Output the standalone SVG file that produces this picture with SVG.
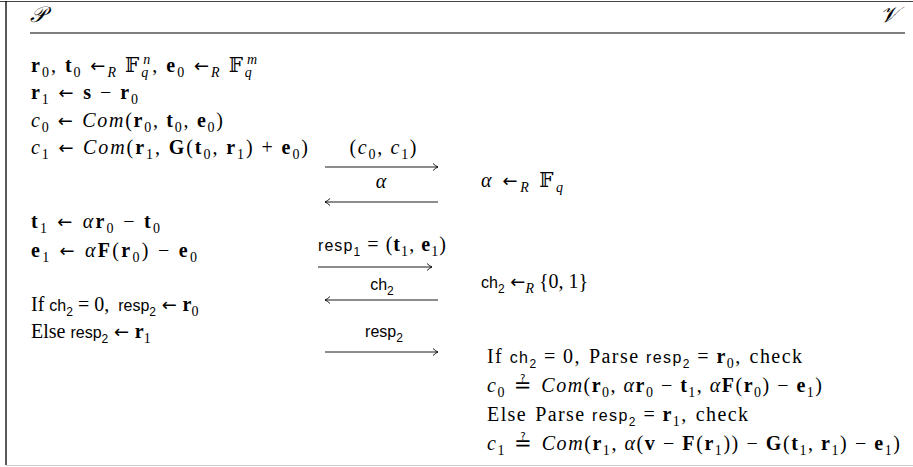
<svg xmlns="http://www.w3.org/2000/svg" width="913" height="467" viewBox="0 0 913 467">
<style>
.m{font-family:"Liberation Serif","DejaVu Serif",serif;font-size:20px;fill:#000}
.b{font-weight:bold}
.i{font-style:italic}
.u{font-size:14px}
.a{font-family:"DejaVu Sans","Liberation Sans",sans-serif;font-size:18px}
.eq{font-family:"DejaVu Sans","Liberation Sans",sans-serif;font-size:21px}
.sf{font-family:"Liberation Sans","DejaVu Sans",sans-serif;font-size:16px}
.us{font-family:"Liberation Sans","DejaVu Sans",sans-serif;font-size:12px}
.sc{font-family:"DejaVu Serif","DejaVu Sans","Liberation Serif",serif;font-style:italic;font-size:22px}
.ar{stroke:#000;stroke-width:0.9;fill:none}
</style>
<defs>
<marker id="hd" viewBox="0 0 6 8" refX="5.5" refY="4" markerWidth="6" markerHeight="8" markerUnits="userSpaceOnUse" orient="auto">
<path d="M0.5,0.5 Q3,3 5.5,4 Q3,5 0.5,7.5" fill="none" stroke="#000" stroke-width="0.9"/>
</marker>
</defs>
<rect width="913" height="467" fill="#fff"/>
<g id="frame">
<line x1="0" y1="1.5" x2="913" y2="1.5" stroke="#444" stroke-width="1.2"/>
<line x1="6" y1="1" x2="6" y2="465" stroke="#000" stroke-width="1.3"/>
<line x1="6" y1="465.5" x2="913" y2="465.5" stroke="#ccc" stroke-width="1"/>
<line x1="30" y1="33" x2="905" y2="33" stroke="#555" stroke-width="1.3"/>
</g>
<g id="prover-header"><text class="m sc" x="30" y="22">𝒫</text></g>
<g id="verifier-header"><text class="m sc" x="898" y="22" text-anchor="end">𝒱</text></g>

<g id="prover">
<text class="m" x="31" y="72" textLength="226" lengthAdjust="spacing"><tspan class="b">r</tspan><tspan class="u" dy="4.5">0</tspan><tspan dy="-4.5">, </tspan><tspan class="b">t</tspan><tspan class="u" dy="4.5">0</tspan><tspan class="a" dy="-4.5"> ←</tspan><tspan class="u i" dy="4.5">R</tspan><tspan dy="-4.5"> 𝔽</tspan><tspan class="u i" dy="5">q</tspan><tspan class="u i" dx="-7" dy="-13">n</tspan><tspan dy="8">, </tspan><tspan class="b">e</tspan><tspan class="u" dy="4.5">0</tspan><tspan class="a" dy="-4.5"> ←</tspan><tspan class="u i" dy="4.5">R</tspan><tspan dy="-4.5"> 𝔽</tspan><tspan class="u i" dy="5">q</tspan><tspan class="u i" dx="-7" dy="-13">m</tspan></text>
<text class="m" x="31" y="99" textLength="107" lengthAdjust="spacing"><tspan class="b">r</tspan><tspan class="u" dy="4.5">1</tspan><tspan class="a" dy="-4.5"> ← </tspan><tspan class="b">s</tspan><tspan> − </tspan><tspan class="b">r</tspan><tspan class="u" dy="4.5">0</tspan></text>
<text class="m" x="31" y="127" textLength="192" lengthAdjust="spacing"><tspan class="i">c</tspan><tspan class="u" dy="4.5">0</tspan><tspan class="a" dy="-4.5"> ← </tspan><tspan class="i">Com</tspan><tspan>(</tspan><tspan class="b">r</tspan><tspan class="u" dy="4.5">0</tspan><tspan dy="-4.5">, </tspan><tspan class="b">t</tspan><tspan class="u" dy="4.5">0</tspan><tspan dy="-4.5">, </tspan><tspan class="b">e</tspan><tspan class="u" dy="4.5">0</tspan><tspan dy="-4.5">)</tspan></text>
<text class="m" x="31" y="154" textLength="277" lengthAdjust="spacing"><tspan class="i">c</tspan><tspan class="u" dy="4.5">1</tspan><tspan class="a" dy="-4.5"> ← </tspan><tspan class="i">Com</tspan><tspan>(</tspan><tspan class="b">r</tspan><tspan class="u" dy="4.5">1</tspan><tspan dy="-4.5">, </tspan><tspan class="b">G</tspan><tspan>(</tspan><tspan class="b">t</tspan><tspan class="u" dy="4.5">0</tspan><tspan dy="-4.5">, </tspan><tspan class="b">r</tspan><tspan class="u" dy="4.5">1</tspan><tspan dy="-4.5">) + </tspan><tspan class="b">e</tspan><tspan class="u" dy="4.5">0</tspan><tspan dy="-4.5">)</tspan></text>
<text class="m" x="31" y="228" textLength="129" lengthAdjust="spacing"><tspan class="b">t</tspan><tspan class="u" dy="4.5">1</tspan><tspan class="a" dy="-4.5"> ← </tspan><tspan class="i">α</tspan><tspan class="b">r</tspan><tspan class="u" dy="4.5">0</tspan><tspan dy="-4.5"> − </tspan><tspan class="b">t</tspan><tspan class="u" dy="4.5">0</tspan></text>
<text class="m" x="31" y="257" textLength="166" lengthAdjust="spacing"><tspan class="b">e</tspan><tspan class="u" dy="4.5">1</tspan><tspan class="a" dy="-4.5"> ← </tspan><tspan class="i">α</tspan><tspan class="b">F</tspan><tspan>(</tspan><tspan class="b">r</tspan><tspan class="u" dy="4.5">0</tspan><tspan dy="-4.5">) − </tspan><tspan class="b">e</tspan><tspan class="u" dy="4.5">0</tspan></text>
<text class="m" x="31" y="311"><tspan>If </tspan><tspan class="sf">ch</tspan><tspan class="us" dy="4.5">2</tspan><tspan dy="-4.5"> = 0,</tspan><tspan dx="9" class="sf">resp</tspan><tspan class="us" dy="4.5">2</tspan><tspan class="a" dy="-4.5"> ← </tspan><tspan class="b">r</tspan><tspan class="u" dy="4.5">0</tspan></text>
<text class="m" x="31" y="338"><tspan>Else </tspan><tspan class="sf">resp</tspan><tspan class="us" dy="4.5">2</tspan><tspan class="a" dy="-4.5"> ← </tspan><tspan class="b">r</tspan><tspan class="u" dy="4.5">1</tspan></text>
</g>

<g id="verifier">
<text class="m" x="481" y="187" textLength="82" lengthAdjust="spacing"><tspan class="i">α</tspan><tspan class="a"> ←</tspan><tspan class="u i" dy="4.5">R</tspan><tspan dy="-4.5"> 𝔽</tspan><tspan class="u i" dy="5">q</tspan></text>
<text class="m" x="481" y="288"><tspan class="sf">ch</tspan><tspan class="us" dy="4.5">2</tspan><tspan class="a" dy="-4.5"> ←</tspan><tspan class="u i" dy="4.5">R</tspan><tspan dy="-4.5"> {0, 1}</tspan></text>
<text class="m" x="487" y="363" textLength="315" lengthAdjust="spacing"><tspan>If </tspan><tspan class="sf">ch</tspan><tspan class="us" dy="4.5">2</tspan><tspan dy="-4.5"> = 0,</tspan><tspan dx="8">Parse </tspan><tspan class="sf">resp</tspan><tspan class="us" dy="4.5">2</tspan><tspan dy="-4.5"> = </tspan><tspan class="b">r</tspan><tspan class="u" dy="4.5">0</tspan><tspan dy="-4.5">,</tspan><tspan dx="8">check</tspan></text>
<text class="m" x="487" y="392" textLength="335" lengthAdjust="spacing"><tspan class="i">c</tspan><tspan class="u" dy="4.5">0</tspan><tspan class="eq" dy="-4.5"> ≟ </tspan><tspan class="i">Com</tspan><tspan>(</tspan><tspan class="b">r</tspan><tspan class="u" dy="4.5">0</tspan><tspan dy="-4.5">, </tspan><tspan class="i">α</tspan><tspan class="b">r</tspan><tspan class="u" dy="4.5">0</tspan><tspan dy="-4.5"> − </tspan><tspan class="b">t</tspan><tspan class="u" dy="4.5">1</tspan><tspan dy="-4.5">, </tspan><tspan class="i">α</tspan><tspan class="b">F</tspan><tspan>(</tspan><tspan class="b">r</tspan><tspan class="u" dy="4.5">0</tspan><tspan dy="-4.5">) − </tspan><tspan class="b">e</tspan><tspan class="u" dy="4.5">1</tspan><tspan dy="-4.5">)</tspan></text>
<text class="m" x="487" y="421" textLength="261" lengthAdjust="spacing"><tspan>Else</tspan><tspan dx="8">Parse </tspan><tspan class="sf">resp</tspan><tspan class="us" dy="4.5">2</tspan><tspan dy="-4.5"> = </tspan><tspan class="b">r</tspan><tspan class="u" dy="4.5">1</tspan><tspan dy="-4.5">,</tspan><tspan dx="8">check</tspan></text>
<text class="m" x="487" y="450" textLength="413" lengthAdjust="spacing"><tspan class="i">c</tspan><tspan class="u" dy="4.5">1</tspan><tspan class="eq" dy="-4.5"> ≟ </tspan><tspan class="i">Com</tspan><tspan>(</tspan><tspan class="b">r</tspan><tspan class="u" dy="4.5">1</tspan><tspan dy="-4.5">, </tspan><tspan class="i">α</tspan><tspan>(</tspan><tspan class="b">v</tspan><tspan> − </tspan><tspan class="b">F</tspan><tspan>(</tspan><tspan class="b">r</tspan><tspan class="u" dy="4.5">1</tspan><tspan dy="-4.5">)) − </tspan><tspan class="b">G</tspan><tspan>(</tspan><tspan class="b">t</tspan><tspan class="u" dy="4.5">1</tspan><tspan dy="-4.5">, </tspan><tspan class="b">r</tspan><tspan class="u" dy="4.5">1</tspan><tspan dy="-4.5">) − </tspan><tspan class="b">e</tspan><tspan class="u" dy="4.5">1</tspan><tspan dy="-4.5">)</tspan></text>
</g>

<g id="connectors">
<line class="ar" x1="325" y1="167" x2="438" y2="167" marker-end="url(#hd)"/>
<text class="m" x="383" y="154" text-anchor="middle" textLength="67" lengthAdjust="spacing">(<tspan class="i">c</tspan><tspan class="u" dy="4.5">0</tspan><tspan dy="-4.5">, </tspan><tspan class="i">c</tspan><tspan class="u" dy="4.5">1</tspan><tspan dy="-4.5">)</tspan></text>
<line class="ar" x1="438" y1="202" x2="325" y2="202" marker-end="url(#hd)"/>
<text class="m i" x="381" y="188" text-anchor="middle">α</text>
<line class="ar" x1="318" y1="267" x2="432" y2="267" marker-end="url(#hd)"/>
<text class="m" x="382" y="251" text-anchor="middle" textLength="128" lengthAdjust="spacing"><tspan class="sf">resp</tspan><tspan class="us" dy="4.5">1</tspan><tspan dy="-4.5"> = (</tspan><tspan class="b">t</tspan><tspan class="u" dy="4.5">1</tspan><tspan dy="-4.5">, </tspan><tspan class="b">e</tspan><tspan class="u" dy="4.5">1</tspan><tspan dy="-4.5">)</tspan></text>
<line class="ar" x1="438" y1="300" x2="325" y2="300" marker-end="url(#hd)"/>
<text class="m" x="382" y="290" text-anchor="middle"><tspan class="sf">ch</tspan><tspan class="us" dy="4.5">2</tspan></text>
<line class="ar" x1="325" y1="352" x2="438" y2="352" marker-end="url(#hd)"/>
<text class="m" x="384" y="337" text-anchor="middle"><tspan class="sf">resp</tspan><tspan class="us" dy="4.5">2</tspan></text>
</g>
</svg>
